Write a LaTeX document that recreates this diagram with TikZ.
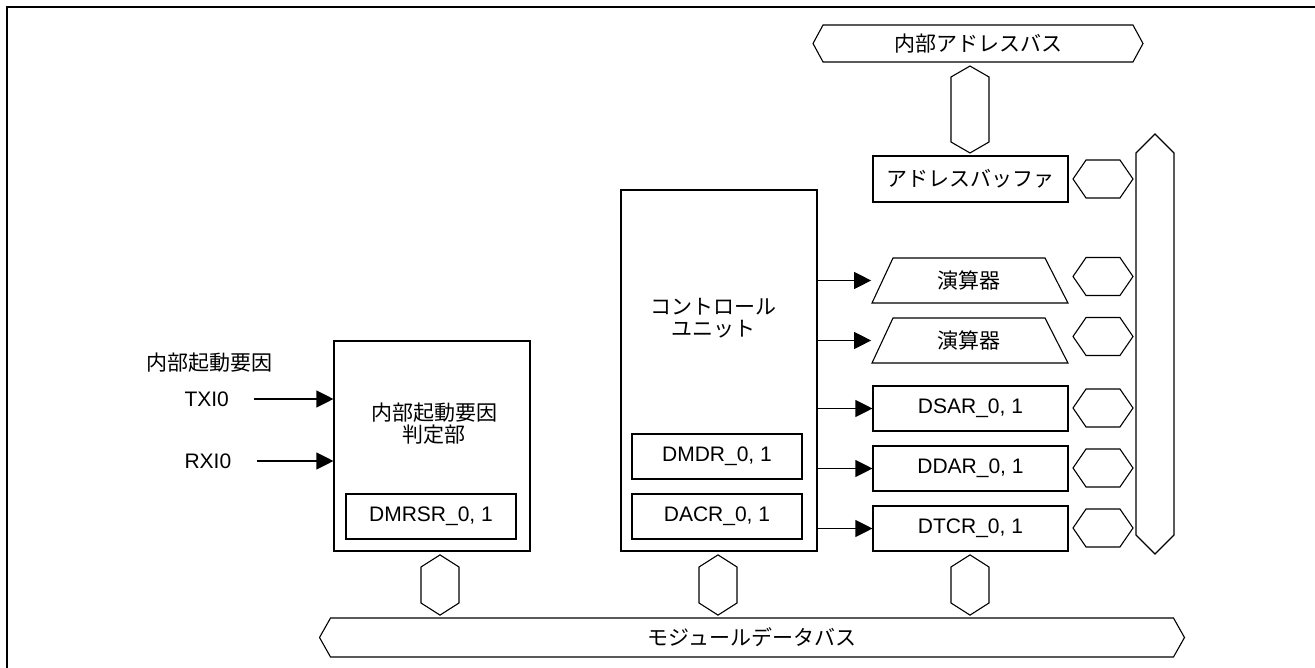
\documentclass[tikz,border=0pt]{standalone}
\usepackage{fontspec}
\setmainfont{Liberation Sans}
\newfontfamily\jpfont{Noto Sans CJK JP}
\usetikzlibrary{shapes.geometric,shapes.symbols,arrows.meta}

\begin{document}
\begin{tikzpicture}[x=1pt, y=-1pt, line width=1.1pt,
  every node/.style={font=\fontsize{21}{22}\selectfont, inner sep=0pt},
  jp/.style={font=\fontsize{21}{22}\selectfont\jpfont},
  block/.style={draw, minimum width=196pt},
  regbox/.style={draw, minimum height=45pt},
  alu/.style={draw, trapezium, trapezium left angle=65, trapezium right angle=63,
    text width=152pt, align=center, text height=30.5pt, text depth=14.5pt},
  hbus/.style={draw, signal, signal to=east and west},
  vbus/.style={draw, signal, signal to=north and south},
  hexh/.style={hbus, signal pointer angle=111, minimum width=60pt, minimum height=38pt},
  hexv/.style={vbus, signal pointer angle=115, minimum width=38pt, minimum height=36pt},
  arr/.style={-{Triangle[length=17pt,width=17pt]}}]
\useasboundingbox (0,0) rectangle (1315,668);

% Frame
\draw[line width=2pt] (7,668) -- (7,7) -- (1315,7);

% Buses
\node[hbus, jp, signal pointer angle=123, minimum width=330pt, minimum height=37pt] (abus) at (978,43.5) {内部アドレスバス};
\node[hbus, jp, signal pointer angle=121, minimum width=865pt, minimum height=39pt] (dbus) at (752,637.5) {モジュールデータバス};
\node[vbus, signal pointer angle=90, minimum width=38pt, minimum height=382pt] (ibus) at (1155,344) {};

% Address side
\node[hexv, signal pointer angle=120, minimum height=65pt] (habus) at (970,109.5) {};
\node[regbox, jp, minimum width=195pt, minimum height=46pt] (abuf) at (970.5,179) {アドレスバッファ};
\node[alu, jp] (alu1) at (969,280.5) {演算器};
\node[alu, jp] (alu2) at (969,340.5) {演算器};
\node[regbox, minimum width=195pt] (dsar) at (970.5,408.5) {DSAR\_0, 1};
\node[regbox, minimum width=195pt] (ddar) at (970.5,468.5) {DDAR\_0, 1};
\node[regbox, minimum width=195pt] (dtcr) at (970.5,528.5) {DTCR\_0, 1};

% Links to the internal bus
\node[hexh] (habuf) at (1103,179) {};
\node[hexh] (halu1) at (1103,276.5) {};
\node[hexh] (halu2) at (1103,336.5) {};
\node[hexh] (hdsar) at (1103,408) {};
\node[hexh] (hddar) at (1103,468) {};
\node[hexh] (hdtcr) at (1103,528) {};

% Control unit
\node[block, minimum height=361pt] (cu) at (719,370.5) {};
\node[jp, align=center] (cuname) at (713,318) {コントロール\\ユニット};
\node[regbox, minimum width=170pt] (dmdr) at (717,456.5) {DMDR\_0, 1};
\node[regbox, minimum width=170pt] (dacr) at (717,516.5) {DACR\_0, 1};

% Start request unit
\node[block, minimum height=210pt] (judge) at (432,446) {};
\node[jp, align=center] (judgename) at (434,424) {内部起動要因\\判定部};
\node[regbox, minimum width=170pt] (dmrsr) at (431,516.5) {DMRSR\_0, 1};

% Links to the module data bus
\node[hexv] (hjudge) at (440,585) {};
\node[hexv] (hcu) at (718,585) {};
\node[hexv] (hdtcr2) at (970,585) {};

% Inputs
\node[jp, anchor=west] (srclabel) at (146,363) {内部起動要因};
\node[anchor=west] (txi) at (184,399) {TXI0};
\node[anchor=west] (rxi) at (184,461) {RXI0};
\draw[arr] ([xshift=25pt]txi.east) -- (judge.west |- txi);
\draw[arr] ([xshift=25pt]rxi.east) -- (judge.west |- rxi);

% Control outputs
\draw[arr] (cu.east |- alu1) -- (alu1.bottom left corner |- alu1);
\draw[arr] (cu.east |- alu2) -- (alu2.bottom left corner |- alu2);
\draw[arr] (cu.east |- dsar) -- (dsar.west);
\draw[arr] (cu.east |- ddar) -- (ddar.west);
\draw[arr] (cu.east |- dtcr) -- (dtcr.west);
\end{tikzpicture}
\end{document}
